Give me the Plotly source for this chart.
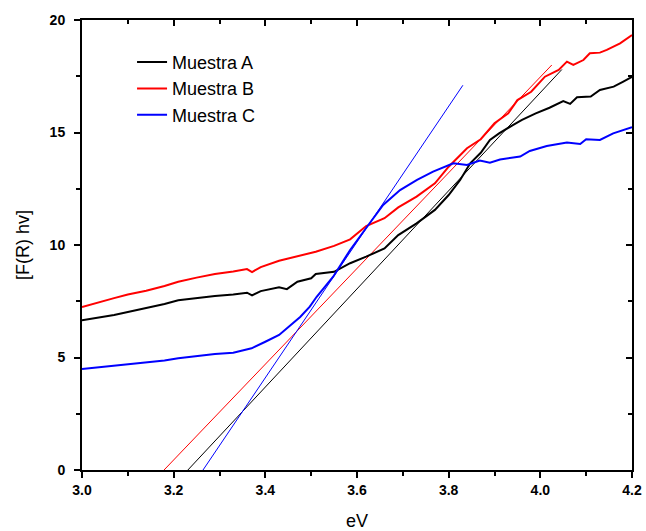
import plotly.graph_objects as go

# ---- data ----
a_x = [3.00, 3.03, 3.07, 3.10, 3.14, 3.18, 3.21, 3.25, 3.29, 3.33, 3.36, 3.371, 3.39, 3.43, 3.447,
       3.47, 3.50, 3.51, 3.55, 3.585, 3.62, 3.66, 3.69, 3.73, 3.77, 3.80, 3.825, 3.847, 3.87, 3.89,
       3.91, 3.94, 3.96, 3.99, 4.02, 4.05, 4.065, 4.08, 4.11, 4.13, 4.16, 4.18, 4.20]
a_y = [6.65, 6.75, 6.89, 7.02, 7.19, 7.38, 7.54, 7.65, 7.73, 7.80, 7.88, 7.76, 7.95, 8.12, 8.04,
       8.37, 8.52, 8.71, 8.81, 9.19, 9.48, 9.85, 10.44, 10.96, 11.56, 12.22, 12.89, 13.63, 14.10, 14.67,
       14.96, 15.33, 15.56, 15.85, 16.10, 16.40, 16.27, 16.57, 16.60, 16.89, 17.04, 17.25, 17.47]

b_x = [3.00, 3.03, 3.07, 3.10, 3.14, 3.18, 3.21, 3.25, 3.29, 3.33, 3.36, 3.371, 3.39, 3.43, 3.46,
       3.49, 3.51, 3.55, 3.585, 3.62, 3.66, 3.69, 3.73, 3.77, 3.80, 3.84, 3.87, 3.90, 3.93, 3.95,
       3.98, 4.01, 4.04, 4.058, 4.072, 4.094, 4.108, 4.13, 4.145, 4.174, 4.20]
b_y = [7.24, 7.42, 7.64, 7.80, 7.97, 8.18, 8.37, 8.55, 8.71, 8.82, 8.93, 8.80, 9.02, 9.30, 9.45,
       9.60, 9.70, 9.96, 10.25, 10.84, 11.19, 11.67, 12.15, 12.74, 13.48, 14.30, 14.70, 15.41, 15.85, 16.44,
       16.81, 17.48, 17.78, 18.15, 18.00, 18.22, 18.52, 18.55, 18.67, 18.96, 19.33]

c_x = [3.00, 3.03, 3.07, 3.10, 3.14, 3.18, 3.21, 3.25, 3.29, 3.33, 3.37, 3.40, 3.43, 3.46, 3.476,
       3.497, 3.512, 3.548, 3.585, 3.622, 3.657, 3.694, 3.731, 3.766, 3.81, 3.84, 3.868, 3.89, 3.912,
       3.956, 3.977, 4.014, 4.058, 4.087, 4.10, 4.13, 4.159, 4.20]
c_y = [4.49, 4.55, 4.62, 4.69, 4.77, 4.87, 4.97, 5.07, 5.16, 5.21, 5.41, 5.70, 6.00, 6.52, 6.80,
       7.26, 7.70, 8.59, 9.78, 10.81, 11.78, 12.44, 12.89, 13.26, 13.63, 13.56, 13.75, 13.66, 13.80,
       13.93, 14.18, 14.40, 14.55, 14.49, 14.70, 14.67, 14.96, 15.24]

# linear fits (tangent lines): [start, end]
fit_a_x = [3.231, 4.047]
fit_a_y = [0.0, 17.8]
fit_b_x = [3.179, 4.025]
fit_b_y = [0.0, 18.0]
fit_c_x = [3.264, 3.831]
fit_c_y = [0.0, 17.1]

names = ["Muestra A", "Muestra B", "Muestra C"]
colors = ["#000000", "#FF0000", "#0000FF"]

x_ticks = [3.0, 3.2, 3.4, 3.6, 3.8, 4.0, 4.2]
x_ticklabels = ["3.0", "3.2", "3.4", "3.6", "3.8", "4.0", "4.2"]
y_ticks = [0, 5, 10, 15, 20]
y_ticklabels = ["0", "5", "10", "15", "20"]

fig = go.Figure()

for fx, fy, col in [(fit_a_x, fit_a_y, colors[0]), (fit_b_x, fit_b_y, colors[1]), (fit_c_x, fit_c_y, colors[2])]:
    fig.add_trace(go.Scatter(x=fx, y=fy, mode="lines", line=dict(color=col, width=1),
                             showlegend=False, hoverinfo="skip"))

for xs, ys, nm, col in [(a_x, a_y, names[0], colors[0]), (b_x, b_y, names[1], colors[1]),
                        (c_x, c_y, names[2], colors[2])]:
    fig.add_trace(go.Scatter(x=xs, y=ys, mode="lines", name=nm, line=dict(color=col, width=2)))

# dummy trace for the mirrored axes (top/right inward ticks)
fig.add_trace(go.Scatter(x=[None], y=[None], xaxis="x2", yaxis="y2", showlegend=False, hoverinfo="skip"))

tickfont = dict(family="Liberation Sans, Arial", size=14, color="black", weight="bold")
titlefont = dict(family="Liberation Sans, Arial", size=18, color="black")

fig.update_layout(
    width=646, height=531,
    margin=dict(l=82, r=14, t=20, b=61),
    paper_bgcolor="white", plot_bgcolor="white",
    showlegend=True,
    legend=dict(x=0.091, y=0.947, xanchor="left", yanchor="top",
                font=dict(family="Liberation Sans, Arial", size=18, color="black"),
                bgcolor="rgba(0,0,0,0)", tracegroupgap=0),
    xaxis=dict(range=[3.0, 4.2], tickmode="array", tickvals=x_ticks, ticktext=x_ticklabels,
               ticks="outside", ticklen=6, tickwidth=2, tickcolor="black", automargin=False,
               minor=dict(dtick=0.1, ticks="outside", ticklen=4, tickwidth=2, tick0=3.0, tickcolor="black"),
               showline=True, linecolor="black", linewidth=2, showgrid=False, zeroline=False,
               tickfont=tickfont, title=dict(text="eV", font=titlefont, standoff=20)),
    yaxis=dict(range=[0, 20], tickmode="array", tickvals=y_ticks, ticktext=y_ticklabels,
               ticks="outside", ticklen=6, tickwidth=2, tickcolor="black", automargin=False,
               ticklabelstandoff=6,
               minor=dict(dtick=2.5, ticks="outside", ticklen=4, tickwidth=2, tick0=0, tickcolor="black"),
               showline=True, linecolor="black", linewidth=2, showgrid=False, zeroline=False,
               tickfont=tickfont, title=dict(text="[F(R) hv]", font=titlefont, standoff=15)),
    xaxis2=dict(overlaying="x", side="top", range=[3.0, 4.2], tickmode="array", tickvals=x_ticks,
                ticks="inside", ticklen=6, tickwidth=2, tickcolor="black", showticklabels=False,
                automargin=False,
                minor=dict(dtick=0.1, ticks="inside", ticklen=4, tickwidth=2, tick0=3.0, tickcolor="black"),
                showline=True, linecolor="black", linewidth=2, showgrid=False, zeroline=False),
    yaxis2=dict(overlaying="y", side="right", range=[0, 20], tickmode="array", tickvals=y_ticks,
                ticks="inside", ticklen=6, tickwidth=2, tickcolor="black", showticklabels=False,
                automargin=False,
                minor=dict(dtick=2.5, ticks="inside", ticklen=4, tickwidth=2, tick0=0, tickcolor="black"),
                showline=True, linecolor="black", linewidth=2, showgrid=False, zeroline=False),
)

fig.write_html("out.html")
